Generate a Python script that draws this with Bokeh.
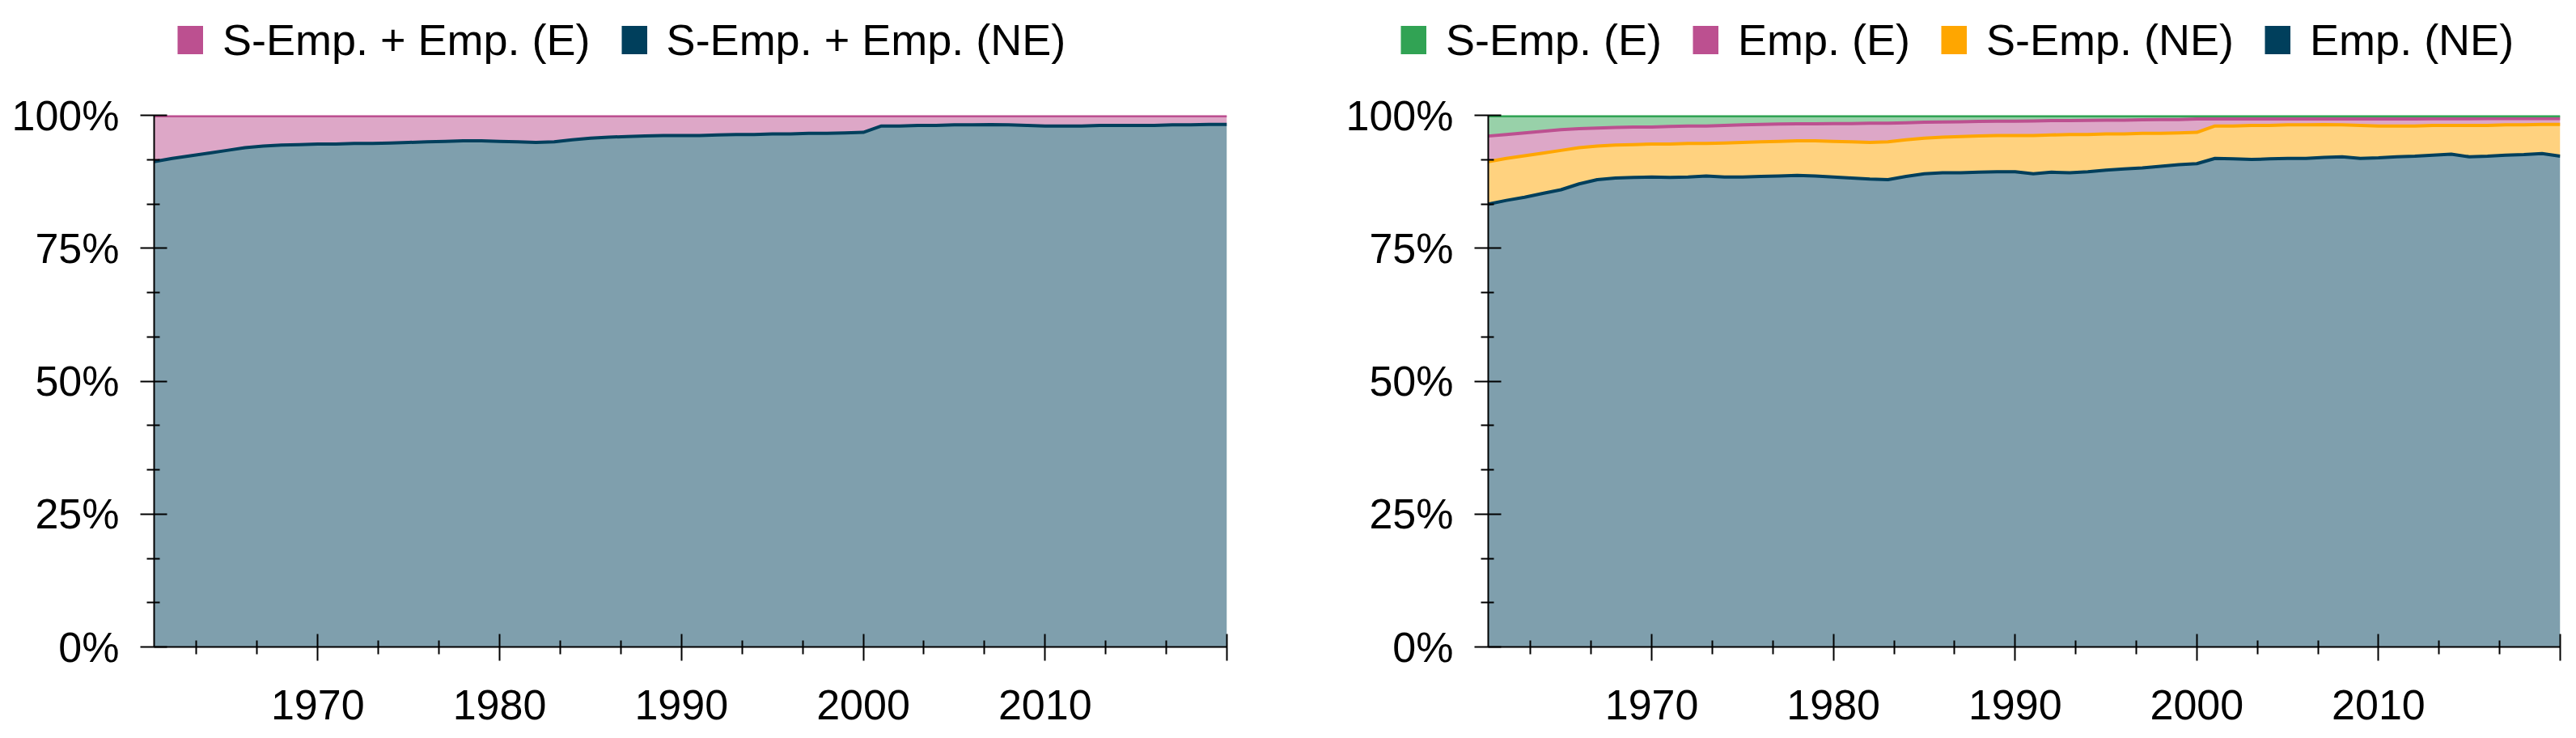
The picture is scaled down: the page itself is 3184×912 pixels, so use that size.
import numpy as np
from bokeh.plotting import figure
from bokeh.layouts import row, column
from bokeh.models import Range1d, FixedTicker, Legend, LegendItem
from bokeh.embed import file_html
from bokeh.resources import INLINE

years = list(range(1961, 2021))

# Right panel shares (%)
emp_ne = [83.3, 84.0, 84.6, 85.3, 86.0, 87.1, 87.9, 88.2, 88.3, 88.4,
          88.3, 88.4, 88.6, 88.4, 88.4, 88.5, 88.6, 88.7, 88.6, 88.4,
          88.2, 88.0, 87.9, 88.5, 89.0, 89.2, 89.2, 89.3, 89.4, 89.4,
          89.0, 89.3, 89.2, 89.4, 89.7, 89.9, 90.1, 90.4, 90.7, 90.9,
          91.9, 91.8, 91.7, 91.8, 91.9, 91.9, 92.1, 92.2, 91.9, 92.0,
          92.2, 92.3, 92.5, 92.7, 92.2, 92.3, 92.5, 92.6, 92.8, 92.3]
semp_ne = [8.0, 7.9, 7.8, 7.6, 7.4, 6.8, 6.3, 6.2, 6.2, 6.2,
           6.3, 6.3, 6.1, 6.4, 6.5, 6.5, 6.5, 6.5, 6.6, 6.7,
           6.8, 6.9, 7.1, 6.9, 6.7, 6.7, 6.8, 6.8, 6.8, 6.8,
           7.2, 7.0, 7.2, 7.0, 6.8, 6.6, 6.5, 6.2, 6.0, 5.9,
           6.1, 6.2, 6.4, 6.3, 6.3, 6.3, 6.15, 6.0, 6.2, 6.0,
           5.8, 5.7, 5.6, 5.4, 5.9, 5.8, 5.7, 5.6, 5.5, 6.0]
emp_e = [4.8, 4.5, 4.3, 4.1, 3.9, 3.6, 3.4, 3.3, 3.3, 3.2,
         3.3, 3.3, 3.3, 3.3, 3.3, 3.3, 3.25, 3.2, 3.2, 3.35,
         3.45, 3.6, 3.5, 3.2, 3.0, 2.85, 2.8, 2.75, 2.7, 2.7,
         2.75, 2.7, 2.6, 2.65, 2.6, 2.6, 2.55, 2.6, 2.5, 2.5,
         1.3, 1.3, 1.2, 1.2, 1.1, 1.1, 1.05, 1.1, 1.2, 1.3,
         1.3, 1.3, 1.25, 1.25, 1.25, 1.3, 1.2, 1.2, 1.1, 1.1]
semp_e = [3.9, 3.6, 3.3, 3.0, 2.7, 2.5, 2.4, 2.3, 2.2, 2.2,
          2.1, 2.0, 2.0, 1.9, 1.8, 1.7, 1.65, 1.6, 1.6, 1.55,
          1.55, 1.5, 1.5, 1.4, 1.3, 1.25, 1.2, 1.15, 1.1, 1.1,
          1.05, 1.0, 1.0, 0.95, 0.9, 0.9, 0.85, 0.8, 0.8, 0.7,
          0.7, 0.7, 0.7, 0.7, 0.7, 0.7, 0.7, 0.7, 0.7, 0.7,
          0.7, 0.7, 0.65, 0.65, 0.65, 0.6, 0.6, 0.6, 0.6, 0.6]

# Left panel shares (%)
semp_emp_ne = [91.3, 91.9, 92.4, 92.9, 93.4, 93.9, 94.2, 94.4, 94.5, 94.6,
               94.6, 94.7, 94.7, 94.8, 94.9, 95.0, 95.1, 95.2, 95.2, 95.1,
               95.0, 94.9, 95.0, 95.4, 95.7, 95.9, 96.0, 96.1, 96.2, 96.2,
               96.2, 96.3, 96.4, 96.4, 96.5, 96.5, 96.6, 96.6, 96.7, 96.8,
               98.0, 98.0, 98.1, 98.1, 98.2, 98.2, 98.25, 98.2, 98.1, 98.0,
               98.0, 98.0, 98.1, 98.1, 98.1, 98.1, 98.2, 98.2, 98.3, 98.3]
semp_emp_e = [8.7, 8.1, 7.6, 7.1, 6.6, 6.1, 5.8, 5.6, 5.5, 5.4,
              5.4, 5.3, 5.3, 5.2, 5.1, 5.0, 4.9, 4.8, 4.8, 4.9,
              5.0, 5.1, 5.0, 4.6, 4.3, 4.1, 4.0, 3.9, 3.8, 3.8,
              3.8, 3.7, 3.6, 3.6, 3.5, 3.5, 3.4, 3.4, 3.3, 3.2,
              2.0, 2.0, 1.9, 1.9, 1.8, 1.8, 1.75, 1.8, 1.9, 2.0,
              2.0, 2.0, 1.9, 1.9, 1.9, 1.9, 1.8, 1.8, 1.7, 1.7]

left_labels = ["S-Emp. + Emp. (E)", "S-Emp. + Emp. (NE)"]
right_labels = ["S-Emp. (E)", "Emp. (E)", "S-Emp. (NE)", "Emp. (NE)"]

x_major = [1970, 1980, 1990, 2000, 2010, 2020]
x_labels = {1970: "1970", 1980: "1980", 1990: "1990", 2000: "2000", 2010: "2010", 2020: ""}
y_major = [0, 25, 50, 75, 100]
y_labels = {0: "0%", 25: "25%", 50: "50%", 75: "75%", 100: "100%"}

DARK, PINK, ORANGE, GREEN = "#003f5c", "#bc5090", "#ffa600", "#31a354"
LIGHT = {DARK: "#7f9fad", PINK: "#dda7c7", ORANGE: "#ffd27f", GREEN: "#98d1a9"}

FONT = "Liberation Sans"
TICK_FS = "52px"
LEG_FS = "54px"

LEG_H = 112
PLOT_H = 800


def make_fig(width, border_left, border_right):
    p = figure(width=width, height=PLOT_H, output_backend="svg", toolbar_location=None,
               x_range=Range1d(1961, 2020), y_range=Range1d(0, 100),
               min_border_left=border_left, min_border_right=border_right,
               min_border_top=30, min_border_bottom=113)
    p.outline_line_color = None
    p.grid.visible = False
    xminor = [d + k * 10 / 3 for d in range(1960, 2020, 10) for k in (1, 2)]
    yminor = [d + k * 25 / 3 for d in range(0, 100, 25) for k in (1, 2)]
    p.xaxis.ticker = FixedTicker(ticks=x_major, minor_ticks=xminor)
    p.yaxis.ticker = FixedTicker(ticks=y_major, minor_ticks=yminor)
    p.xaxis.major_label_overrides = x_labels
    p.yaxis.major_label_overrides = y_labels
    for ax in (p.xaxis[0], p.yaxis[0]):
        ax.axis_line_color = "black"
        ax.axis_line_width = 2
        ax.major_tick_line_color = "black"
        ax.major_tick_line_width = 2
        ax.minor_tick_line_color = "black"
        ax.minor_tick_line_width = 2
        ax.major_label_text_font = FONT
        ax.major_label_text_font_size = TICK_FS
        ax.major_label_text_color = "black"
        ax.major_label_text_font_style = "normal"
    p.xaxis.major_tick_in = 16
    p.xaxis.major_tick_out = 17
    p.xaxis.minor_tick_in = 8
    p.xaxis.minor_tick_out = 9
    p.xaxis.major_label_standoff = 36
    p.yaxis.major_tick_in = 16
    p.yaxis.major_tick_out = 17
    p.yaxis.minor_tick_in = 7
    p.yaxis.minor_tick_out = 9
    p.yaxis.major_label_standoff = 26
    return p


def draw_stack(p, series, colors):
    lower = np.zeros(len(years))
    tops = []
    for vals, col in zip(series, colors):
        upper = lower + np.array(vals, dtype=float)
        p.varea(x=years, y1=lower, y2=upper, fill_color=LIGHT[col], fill_alpha=1.0)
        tops.append((upper, col))
        lower = upper
    for i, (upper, col) in enumerate(tops):
        lw = 5 if i == len(tops) - 1 else 4
        p.line(x=years, y=upper, line_color=col, line_width=lw, line_join="round")


def make_legend_fig(width, labels, colors, loc):
    f = figure(width=width, height=LEG_H, output_backend="svg", toolbar_location=None,
               x_range=Range1d(0, 1), y_range=Range1d(0, 1),
               x_axis_location=None, y_axis_location=None,
               min_border=0, min_border_left=0, min_border_right=0,
               min_border_top=0, min_border_bottom=0)
    f.outline_line_color = None
    f.grid.visible = False
    items = []
    nan = float("nan")
    for lab, col in zip(labels, colors):
        # key-only renderer: a single NaN point draws nothing in the plot itself
        r = f.line(x=[nan], y=[nan], line_color=col, line_width=35, line_cap="butt")
        items.append(LegendItem(label=lab, renderers=[r]))
    lg = Legend(items=items, orientation="horizontal", location=loc,
                glyph_width=32, glyph_height=62, label_standoff=24, spacing=38,
                padding=0, margin=0, border_line_alpha=0, background_fill_alpha=0,
                label_text_font=FONT, label_text_font_size=LEG_FS, label_text_color="black",
                label_height=62)
    f.add_layout(lg, "center")
    return f


# Left panel
l1 = make_legend_fig(1608, left_labels, [PINK, DARK], (219, 32))
p1 = make_fig(1608, 190, 92)
draw_stack(p1, [semp_emp_ne, semp_emp_e], [DARK, PINK])

# Right panel
l2 = make_legend_fig(1576, right_labels, [GREEN, PINK, ORANGE, DARK], (123, 32))
p2 = make_fig(1576, 231, 20)
draw_stack(p2, [emp_ne, semp_ne, emp_e, semp_e], [DARK, ORANGE, PINK, GREEN])

layout = column(row(l1, l2), row(p1, p2))
open("out.html", "w").write(file_html(layout, INLINE))
